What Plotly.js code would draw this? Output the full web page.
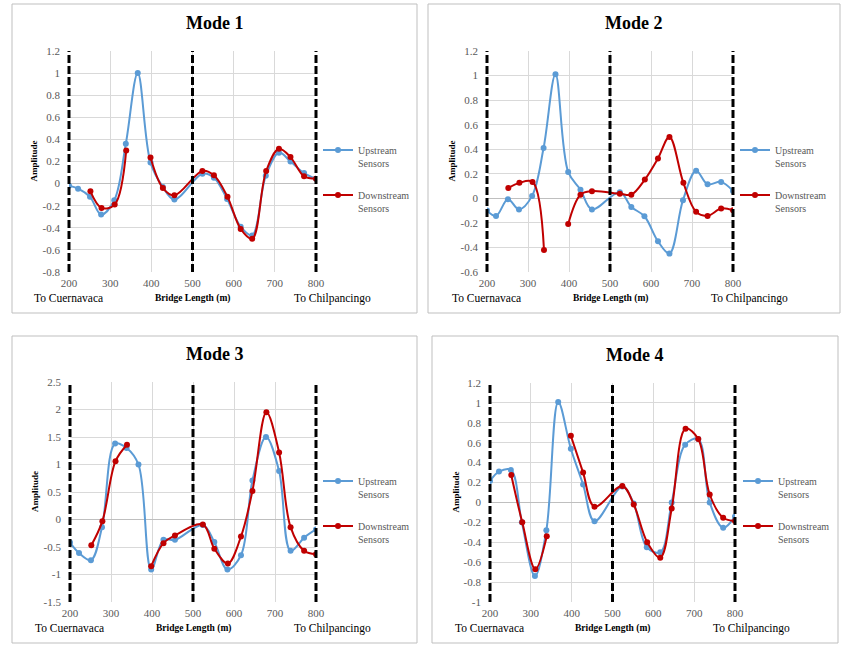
<!DOCTYPE html>
<html>
<head>
<meta charset="utf-8">
<script src="https://cdn.plot.ly/plotly-3.0.1.min.js"></script>
<style>html,body{margin:0;padding:0;background:#fff;}#chart{width:850px;height:653px;}</style>
</head>
<body>
<div id="chart"></div>
<script>
// ---------------- DATA ----------------
const modeTitles = ["Mode 1", "Mode 2", "Mode 3", "Mode 4"];
const seriesNames = ["Upstream<br>Sensors", "Downstream<br>Sensors"];
const piers = [200, 500, 800];
const xTicks = [200, 300, 400, 500, 600, 700, 800];
const yTicks1 = [-0.8, -0.6, -0.4, -0.2, 0, 0.2, 0.4, 0.6, 0.8, 1, 1.2];
const yTicks2 = [-0.6, -0.4, -0.2, 0, 0.2, 0.4, 0.6, 0.8, 1, 1.2];
const yTicks3 = [-1.5, -1, -0.5, 0, 0.5, 1, 1.5, 2, 2.5];
const yTicks4 = [-1, -0.8, -0.6, -0.4, -0.2, 0, 0.2, 0.4, 0.6, 0.8, 1, 1.2];
const leftLabel = "To Cuernavaca";
const rightLabel = "To Chilpancingo";
const xTitle = "Bridge Length (m)";
const yTitle = "Amplitude";

// sensor positions along the bridge (m)
const xUp   = [200, 222, 251, 278, 310, 338, 367, 398, 428, 456, 524, 552, 584, 617, 645, 678, 710, 738, 771, 800];
const xDown = [252, 279, 311, 339, 367, 398, 428, 456, 524, 552, 585, 617, 645, 679, 710, 738, 771, 800];

const mode1Up   = [-0.02, -0.046, -0.12, -0.28, -0.15, 0.36, 1.0, 0.19, -0.03, -0.145, 0.09, 0.054, -0.14, -0.39, -0.47, 0.07, 0.28, 0.2, 0.095, 0.045];
const mode1Down = [-0.07, -0.22, -0.19, 0.30, null, 0.237, -0.04, -0.106, 0.114, 0.075, -0.12, -0.41, -0.50, 0.114, 0.315, 0.24, 0.066, 0.045];

const mode2Up   = [-0.10, -0.143, -0.007, -0.09, 0.02, 0.41, 1.01, 0.215, 0.07, -0.09, 0.05, -0.07, -0.146, -0.35, -0.45, -0.015, 0.224, 0.115, 0.134, 0.06];
const mode2Down = [0.085, 0.126, 0.134, -0.42, null, -0.21, 0.03, 0.058, 0.037, 0.03, 0.153, 0.325, 0.50, 0.126, -0.11, -0.143, -0.083, -0.097];

const mode3Up   = [-0.42, -0.61, -0.74, -0.14, 1.38, 1.30, 1.00, -0.91, -0.37, -0.37, -0.10, -0.41, -0.91, -0.65, 0.71, 1.50, 0.88, -0.57, -0.33, -0.18];
const mode3Down = [-0.47, -0.03, 1.06, 1.36, null, -0.85, -0.43, -0.29, -0.09, -0.53, -0.80, -0.31, 0.52, 1.95, 1.22, -0.14, -0.57, -0.63];

const mode4Up   = [0.216, 0.31, 0.327, -0.20, -0.74, -0.28, 1.01, 0.54, 0.18, -0.19, 0.16, -0.01, -0.45, -0.50, 0.0, 0.58, 0.637, 0.0, -0.254, -0.14];
const mode4Down = [0.276, -0.20, -0.67, -0.34, null, 0.67, 0.30, -0.043, 0.166, -0.02, -0.40, -0.555, -0.06, 0.74, 0.637, 0.08, -0.154, -0.187];

// ---------------- LAYOUT / DRAW ----------------
const W = 850, H = 653;
const px = v => v / W;
const py = v => 1 - v / H;
const FONT = "Liberation Serif, 'Times New Roman', serif";
const blue = "#5B9BD5", red = "#C00000", tickGray = "#595959";

const panels = [
  {up: mode1Up, down: mode1Down, ticks: yTicks1, plot: [69, 316, 51, 272], box: [12, 417, 4, 313], leg: [318, 137]},
  {up: mode2Up, down: mode2Down, ticks: yTicks2, plot: [487, 733, 51, 272], box: [428, 840, 4, 313], leg: [735, 137]},
  {up: mode3Up, down: mode3Down, ticks: yTicks3, plot: [70, 316, 382, 602], box: [12, 417, 336, 643], leg: [318, 468]},
  {up: mode4Up, down: mode4Down, ticks: yTicks4, plot: [490, 735, 383, 602], box: [432, 838, 336, 643], leg: [738, 468]}
];

const traces = [];
const layout = {
  width: W, height: H,
  margin: {l: 0, r: 0, t: 0, b: 0},
  paper_bgcolor: "#fff", plot_bgcolor: "#fff",
  font: {family: FONT, color: tickGray},
  shapes: [], annotations: []
};

panels.forEach((p, i) => {
  const n = i + 1;
  const xa = "x" + (n === 1 ? "" : n), ya = "y" + (n === 1 ? "" : n);
  const legName = "legend" + (n === 1 ? "" : n);
  const [L, R, T, B] = p.plot;
  const xRange = [xTicks[0], xTicks[xTicks.length - 1]];

  traces.push({
    x: xUp, y: p.up, name: seriesNames[0], type: "scatter", mode: "lines+markers",
    line: {color: blue, width: 2, shape: "spline", smoothing: 1},
    marker: {color: blue, size: 6}, xaxis: xa, yaxis: ya, legend: legName, legendgroup: "u" + n,
    connectgaps: false, hoverinfo: "x+y"
  });
  traces.push({
    x: xDown, y: p.down, name: seriesNames[1], type: "scatter", mode: "lines+markers",
    line: {color: red, width: 2, shape: "spline", smoothing: 1},
    marker: {color: red, size: 6}, xaxis: xa, yaxis: ya, legend: legName, legendgroup: "d" + n,
    connectgaps: false, hoverinfo: "x+y"
  });

  const yMin = p.ticks[0], yMax = p.ticks[p.ticks.length - 1];
  layout["xaxis" + (n === 1 ? "" : n)] = {
    domain: [px(L), px(R)], anchor: ya, range: xRange,
    tickvals: xTicks, ticktext: xTicks.map(String), showgrid: true, gridcolor: "#D9D9D9",
    zeroline: false, showline: false, ticks: "", ticklabelstandoff: 3,
    tickfont: {family: FONT, size: 11, color: tickGray}, fixedrange: true
  };
  layout["yaxis" + (n === 1 ? "" : n)] = {
    domain: [py(B), py(T)], anchor: xa, range: [yMin, yMax],
    tickvals: p.ticks, ticktext: p.ticks.map(String), showgrid: true, gridcolor: "#D9D9D9",
    zeroline: true, zerolinecolor: "#BFBFBF", zerolinewidth: 1, showline: false, ticks: "",
    ticklabelstandoff: 8, tickfont: {family: FONT, size: 11, color: tickGray}, fixedrange: true
  };

  layout[legName] = {
    x: px(p.leg[0]), y: py(p.leg[1]), xanchor: "left", yanchor: "top",
    bgcolor: "rgba(0,0,0,0)", font: {family: FONT, size: 10, color: tickGray},
    valign: "top", traceorder: "grouped", tracegroupgap: 16, itemwidth: 30
  };

  // panel frame
  const [bl, br, bt, bb] = p.box;
  layout.shapes.push({type: "rect", xref: "paper", yref: "paper", x0: px(bl), x1: px(br), y0: py(bb), y1: py(bt),
    line: {color: "#BFBFBF", width: 1}, fillcolor: "rgba(0,0,0,0)", layer: "below"});

  // pier dashed lines (positioned along the x axis range, unclipped)
  piers.forEach(pv => {
    const f = (pv - xRange[0]) / (xRange[1] - xRange[0]);
    layout.shapes.push({type: "line", xref: xa + " domain", yref: ya + " domain", x0: f, x1: f, y0: 0, y1: 1,
      line: {color: "#000", width: 3, dash: "8px,3px"}, layer: "above"});
  });

  // texts
  layout.annotations.push({text: "<b>" + modeTitles[i] + "</b>", xref: "paper", yref: "paper",
    x: px((bl + br) / 2), y: py(T - 28), xanchor: "center", yanchor: "middle", showarrow: false,
    font: {family: FONT, size: 18, color: "#000"}});
  layout.annotations.push({text: leftLabel, xref: "paper", yref: "paper", x: px(L - 37), y: py(B + 26),
    xanchor: "left", yanchor: "middle", showarrow: false, font: {family: FONT, size: 11.5, color: "#000"}});
  layout.annotations.push({text: rightLabel, xref: "paper", yref: "paper", x: px(R + 57), y: py(B + 26),
    xanchor: "right", yanchor: "middle", showarrow: false, font: {family: FONT, size: 11.5, color: "#000"}});
  layout.annotations.push({text: "<b>" + xTitle + "</b>", xref: "paper", yref: "paper", x: px((L + R) / 2), y: py(B + 26),
    xanchor: "center", yanchor: "middle", showarrow: false, font: {family: FONT, size: 9.5, color: "#000"}});
  layout.annotations.push({text: "<b>" + yTitle + "</b>", xref: "paper", yref: "paper", x: px(L - 35), y: py((T + B) / 2),
    xanchor: "center", yanchor: "middle", textangle: -90, showarrow: false, font: {family: FONT, size: 9, color: "#000"}});
});

Plotly.newPlot("chart", traces, layout, {displayModeBar: false, staticPlot: true});
</script>
</body>
</html>
